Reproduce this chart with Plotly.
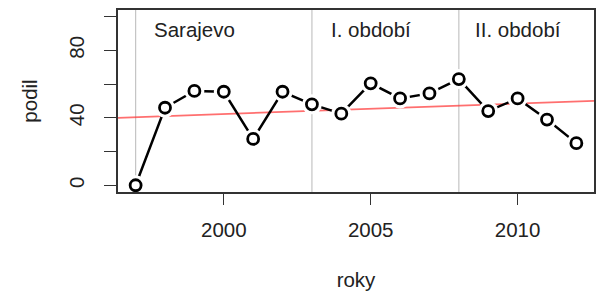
import plotly.graph_objects as go

years = list(range(1997, 2013))
podil = [0, 46, 56, 55.5, 27.5, 55.5, 48, 42.5, 60.5, 51.5, 54.5, 63, 44, 51.5, 39, 25]

trend_intercept_1997 = 40.4
trend_slope = 0.62

period_starts = [1997, 2003, 2008]
period_labels = ["Sarajevo", "I. období", "II. období"]
period_label_x = [1999, 2005, 2010]
period_label_y = 92.5

x_ticks = [2000, 2005, 2010]
y_ticks = [0, 20, 40, 60, 80, 100]
y_ticktext = ["0", "", "40", "", "80", ""]

x_range = [1996.4, 2012.6]
y_range = [-4, 104]

font = "Liberation Sans, Arial, sans-serif"
fs = 20.5

fig = go.Figure()

tx = x_range
ty = [trend_intercept_1997 + trend_slope * (x - 1997) for x in tx]
fig.add_trace(go.Scatter(x=tx, y=ty, mode="lines",
                         line=dict(color="rgba(255,50,50,0.7)", width=1.8),
                         hoverinfo="skip", showlegend=False))

fig.add_trace(go.Scatter(x=years, y=podil, mode="lines",
                         line=dict(color="black", width=2.5),
                         showlegend=False, cliponaxis=False))
fig.add_trace(go.Scatter(x=years, y=podil, mode="markers",
                         marker=dict(symbol="circle", size=20, color="white",
                                     line=dict(width=0)),
                         showlegend=False, cliponaxis=False))
fig.add_trace(go.Scatter(x=years, y=podil, mode="markers",
                         marker=dict(symbol="circle-open", size=11, color="black",
                                     line=dict(width=2.8, color="black")),
                         showlegend=False, cliponaxis=False))

shapes = []
for s in period_starts:
    shapes.append(dict(type="line", xref="x", yref="paper", x0=s, x1=s, y0=0, y1=1,
                       line=dict(color="#c4c4c4", width=1.2), layer="below"))

annotations = []
for lab, lx in zip(period_labels, period_label_x):
    annotations.append(dict(x=lx, y=period_label_y, xref="x", yref="y", text=lab,
                            showarrow=False, font=dict(family=font, size=fs, color="#222"),
                            xanchor="center", yanchor="middle"))

fig.update_layout(
    width=598, height=294,
    margin=dict(l=118, r=4, t=10, b=102),
    paper_bgcolor="white", plot_bgcolor="white",
    shapes=shapes, annotations=annotations,
    font=dict(family=font, size=fs, color="#222"),
    xaxis=dict(range=x_range, tickvals=x_ticks, ticks="outside", ticklen=11,
               tickwidth=1.3, tickcolor="#333", showgrid=False, zeroline=False,
               showline=True, linecolor="#333", linewidth=1.5, mirror=True,
               ticklabelstandoff=8, automargin=False,
               title=dict(text="roky", standoff=32, font=dict(size=fs))),
    yaxis=dict(range=y_range, tickvals=y_ticks, ticktext=y_ticktext, ticks="outside",
               ticklen=12, tickwidth=1.3, tickcolor="#333", showgrid=False,
               zeroline=False, showline=True, linecolor="#333", linewidth=1.5,
               mirror=True, tickangle=-90, ticklabelstandoff=12, automargin=False,
               title=dict(text="podil", standoff=22, font=dict(size=fs))),
)

fig.write_html("out.html", config={"displayModeBar": False},
               post_script="document.body.style.margin='0';document.body.style.overflow='hidden';")
